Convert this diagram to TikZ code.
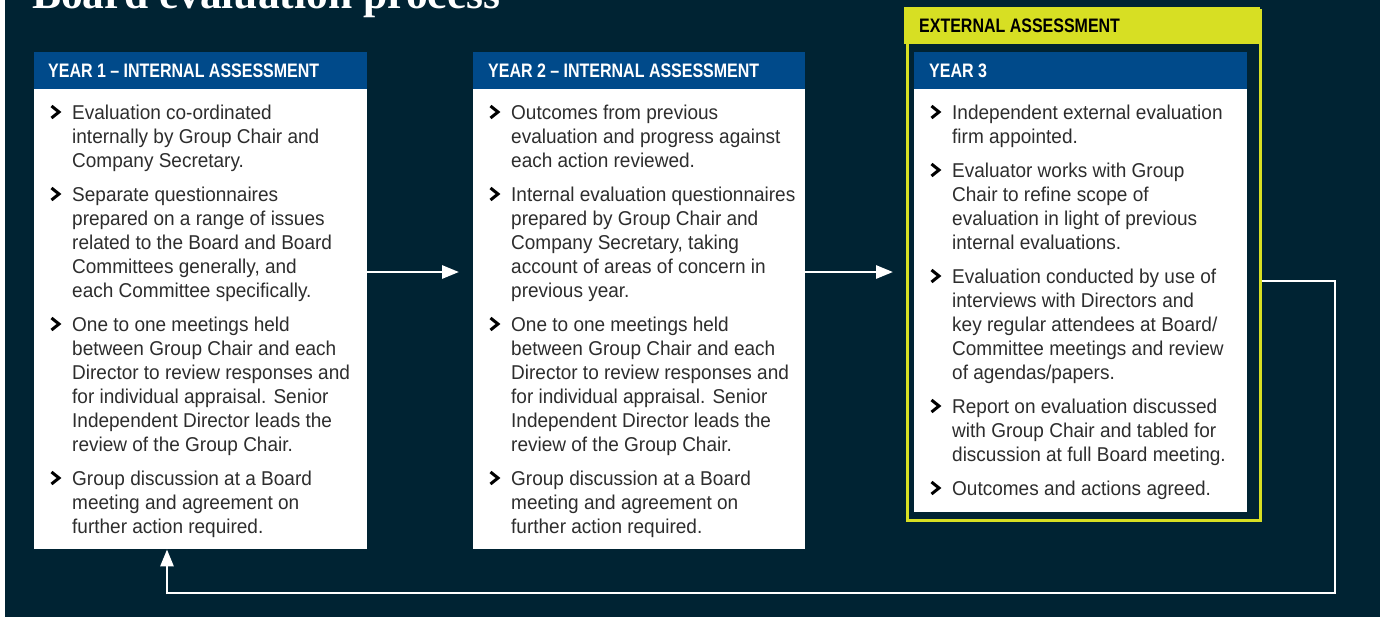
\documentclass[tikz,border=0pt]{standalone}
\usepackage{fontspec}
\setmainfont{Liberation Sans}
\newfontfamily\bodyfont{Liberation Sans}[FakeStretch=0.95]
\newfontfamily\hdrfont{Liberation Sans}[FakeStretch=0.82]
\newfontfamily\titlefont{Liberation Serif}
\usetikzlibrary{arrows.meta}
\definecolor{bg}{RGB}{0,35,51}
\definecolor{hdrblue}{RGB}{0,74,138}
\definecolor{ylw}{RGB}{215,223,35}
\definecolor{txt}{RGB}{45,45,45}
\tikzset{
  hdrbox/.style={fill=hdrblue, draw=none, inner sep=0pt, minimum height=37pt, anchor=north west},
  bodybox/.style={fill=white, draw=none, inner sep=0pt, anchor=north west},
  hdrtext/.style={anchor=base west, inner sep=0pt, text=white, font=\hdrfont\bfseries\fontsize{19.5}{19.5}\selectfont},
  bodyline/.style={anchor=base west, inner sep=0pt, text=txt, font=\bodyfont\fontsize{20}{24}\selectfont},
  chev/.style={draw=black, line width=3pt, line join=miter},
  flow/.style={draw=white, line width=2.8pt, -{Triangle[length=17pt,width=13pt]}},
  loopline/.style={draw=white, line width=2.8pt, line join=miter}
}
\newcommand{\bulletlist}[4]{%
  \draw[chev] (#2-0.5,#3-13) -- ++(7.5,6) -- ++(-7.5,6);
  \foreach \txtline [count=\i from 0] in {#4} {
    \node[bodyline] (#1-\i) at (#2+20,#3+24*\i) {\txtline};
  }%
}
\begin{document}
\begin{tikzpicture}[x=1pt,y=-1pt]
\useasboundingbox (0,0) rectangle (1380,619);
\clip (0,0) rectangle (1380,619);
\fill[white] (0,0) rectangle (1380,619);
\fill[bg] (5,0) rectangle (1380,617);

% title
\node[anchor=base west, inner sep=0pt, text=white, font=\titlefont\bfseries\fontsize{43.5}{43.5}\selectfont] (title) at (32,8) {Board evaluation process};

% Year 1
\node[hdrbox, minimum width=333pt] (h1) at (34,52) {};
\node[bodybox, minimum width=333pt, minimum height=460pt] (b1) at (34,89) {};
\node[hdrtext] (h1t) at (48,77) {YEAR 1 – INTERNAL ASSESSMENT};
\bulletlist{a1}{52}{119}{{Evaluation co-ordinated},{internally by Group Chair and},{Company Secretary.}}
\bulletlist{a2}{52}{201}{{Separate questionnaires},{prepared on a range of issues},{related to the Board and Board},{Committees generally, and},{each Committee specifically.}}
\bulletlist{a3}{52}{331}{{One to one meetings held},{between Group Chair and each},{Director to review responses and},{for individual appraisal. Senior},{Independent Director leads the},{review of the Group Chair.}}
\bulletlist{a4}{52}{485}{{Group discussion at a Board},{meeting and agreement on},{further action required.}}

% Year 2
\node[hdrbox, minimum width=332pt] (h2) at (473,52) {};
\node[bodybox, minimum width=332pt, minimum height=460pt] (b2) at (473,89) {};
\node[hdrtext] (h2t) at (488,77) {YEAR 2 – INTERNAL ASSESSMENT};
\bulletlist{c1}{491}{119}{{Outcomes from previous},{evaluation and progress against},{each action reviewed.}}
\bulletlist{c2}{491}{201}{{Internal evaluation questionnaires},{prepared by Group Chair and},{Company Secretary, taking},{account of areas of concern in},{previous year.}}
\bulletlist{c3}{491}{331}{{One to one meetings held},{between Group Chair and each},{Director to review responses and},{for individual appraisal. Senior},{Independent Director leads the},{review of the Group Chair.}}
\bulletlist{c4}{491}{485}{{Group discussion at a Board},{meeting and agreement on},{further action required.}}

% External assessment frame
\node[draw=ylw, line width=3pt, inner sep=0pt, anchor=north west, minimum width=353pt, minimum height=510pt] (ext) at (905.5,8.5) {};
\node[fill=ylw, inner sep=0pt, anchor=north west, minimum width=356pt, minimum height=37pt] (exth) at (904,7) {};
\node[anchor=base west, inner sep=0pt, text=black, font=\hdrfont\bfseries\fontsize{19.5}{19.5}\selectfont] (extt) at (919,32) {EXTERNAL ASSESSMENT};

% Year 3
\node[hdrbox, minimum width=333pt] (h3) at (914,52) {};
\node[bodybox, minimum width=333pt, minimum height=423pt] (b3) at (914,89) {};
\node[hdrtext] (h3t) at (929,77) {YEAR 3};
\bulletlist{e1}{932}{119}{{Independent external evaluation},{firm appointed.}}
\bulletlist{e2}{932}{177}{{Evaluator works with Group},{Chair to refine scope of},{evaluation in light of previous},{internal evaluations.}}
\bulletlist{e3}{932}{283}{{Evaluation conducted by use of},{interviews with Directors and},{key regular attendees at Board/},{Committee meetings and review},{of agendas/papers.}}
\bulletlist{e4}{932}{413}{{Report on evaluation discussed},{with Group Chair and tabled for},{discussion at full Board meeting.}}
\bulletlist{e5}{932}{495}{{Outcomes and actions agreed.}}

% connectors
\draw[flow, shorten >=14pt] (b1.east |- 0,272) -- (b2.west |- 0,272);
\draw[flow, shorten >=11pt] (b2.east |- 0,272) -- (exth.west |- 0,272);
\coordinate (r1) at (1335,281);
\coordinate (r2) at (1335,593);
\coordinate (r3) at (167,593);
\draw[loopline] (ext.east |- r1) -- (r1) -- (r2) -- (r3);
\draw[flow] (r3) ++(0,1.4) -- (b1.south -| r3);
\end{tikzpicture}
\end{document}
